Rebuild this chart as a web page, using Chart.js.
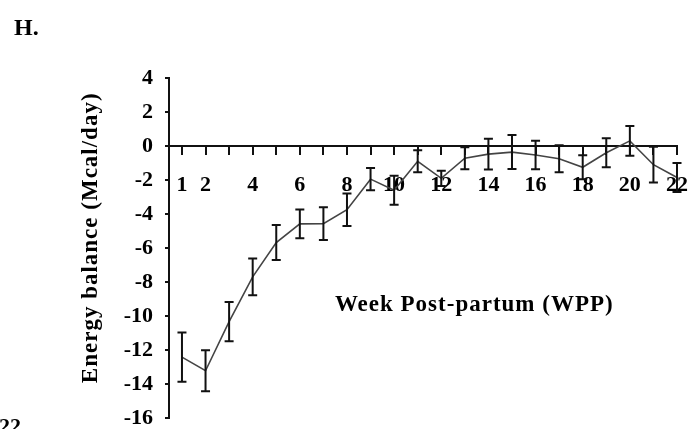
<!DOCTYPE html>
<html><head><meta charset="utf-8">
<script src="https://cdn.jsdelivr.net/npm/chart.js@4"></script>
<style>html,body{margin:0;padding:0;background:#fff;} canvas{display:block;}</style>
</head><body>
<canvas id="c" width="692" height="429"></canvas>
<script>
const weeks = [1,2,3,4,5,6,7,8,9,10,11,12,13,14,15,16,17,18,19,20,21,22];
const energyBalance = [-12.42,-13.22,-10.33,-7.7,-5.68,-4.58,-4.57,-3.75,-1.95,-2.6,-0.9,-1.9,-0.72,-0.48,-0.36,-0.53,-0.75,-1.25,-0.4,0.3,-1.1,-1.85];
const errorSEM = [1.45,1.2,1.15,1.08,1.03,0.85,0.96,0.95,0.65,0.85,0.65,0.45,0.65,0.9,1.0,0.84,0.8,0.7,0.85,0.88,1.05,0.85];
const xTickLabels = [1,2,4,6,8,10,12,14,16,18,20,22];
const yTickStep = 2;
const yMin = -16, yMax = 4;
const yAxisTitle = 'Energy balance (Mcal/day)';
const xAxisTitle = 'Week Post-partum (WPP)';
const panelLabel = 'H.';
const neighbourLabel = '22';
const FONT = "'Liberation Serif', 'Times New Roman', serif";

const errorBarPlugin = {
  id: 'errorBars',
  afterDatasetsDraw(chart) {
    const {ctx, scales: {x, y}} = chart;
    ctx.save();
    ctx.strokeStyle = '#111';
    ctx.lineWidth = 2;
    weeks.forEach((w, i) => {
      const px = x.getPixelForValue(w);
      const top = y.getPixelForValue(energyBalance[i] + errorSEM[i]);
      const bot = y.getPixelForValue(energyBalance[i] - errorSEM[i]);
      ctx.beginPath();
      ctx.moveTo(px, top); ctx.lineTo(px, bot);
      ctx.moveTo(px - 4.5, top); ctx.lineTo(px + 4.5, top);
      ctx.moveTo(px - 4.5, bot); ctx.lineTo(px + 4.5, bot);
      ctx.stroke();
    });
    ctx.restore();
  }
};

const textPlugin = {
  id: 'texts',
  afterDraw(chart) {
    const {ctx, scales: {x, y}} = chart;
    ctx.save();
    ctx.fillStyle = '#000';
    ctx.font = `bold 23px ${FONT}`;
    try { ctx.letterSpacing = '1px'; } catch (e) {}
    ctx.textAlign = 'center';
    ctx.textBaseline = 'alphabetic';
    ctx.fillText(xAxisTitle, x.getPixelForValue(13.4), 311);
    ctx.save();
    ctx.translate(97, y.getPixelForValue(-5.4));
    ctx.rotate(-Math.PI / 2);
    ctx.fillText(yAxisTitle, 0, 0);
    ctx.restore();
    try { ctx.letterSpacing = '0px'; } catch (e) {}
    ctx.textAlign = 'left';
    ctx.font = `bold 24px ${FONT}`;
    ctx.fillText(panelLabel, 14, 35);
    ctx.font = `bold 22px ${FONT}`;
    ctx.fillText(neighbourLabel, -1, 433);
    ctx.restore();
  }
};

new Chart(document.getElementById('c'), {
  type: 'line',
  data: {
    datasets: [{
      data: weeks.map((w, i) => ({x: w, y: energyBalance[i]})),
      borderColor: '#444',
      borderWidth: 1.6,
      pointRadius: 0,
      tension: 0,
      fill: false
    }]
  },
  options: {
    responsive: false,
    animation: false,
    devicePixelRatio: 1,
    layout: {padding: {top: 78, right: 15, bottom: 11, left: 0}},
    plugins: {legend: {display: false}, tooltip: {enabled: false}},
    scales: {
      x: {
        type: 'linear',
        position: {y: 0},
        min: 0.45,
        max: 22,
        afterBuildTicks: s => { s.ticks = weeks.map(v => ({value: v})); },
        afterFit: s => { s.height = 0; s.paddingLeft = 0; s.paddingRight = 0; s.paddingTop = 0; s.paddingBottom = 0; },
        ticks: {
          autoSkip: false,
          maxRotation: 0,
          padding: 18,
          color: '#000',
          font: {family: FONT, size: 22, weight: 'bold'},
          callback: v => xTickLabels.includes(v) ? String(v) : ''
        },
        grid: {drawOnChartArea: false, drawTicks: true, tickLength: 8, color: '#111', lineWidth: 2},
        border: {color: '#111', width: 2}
      },
      y: {
        type: 'linear',
        position: 'left',
        min: yMin,
        max: yMax,
        afterFit: s => { s.width = 169; s.paddingTop = 0; s.paddingBottom = 0; s.paddingLeft = 0; s.paddingRight = 0; },
        ticks: {
          stepSize: yTickStep,
          padding: 12,
          color: '#000',
          font: {family: FONT, size: 22, weight: 'bold'}
        },
        grid: {drawOnChartArea: false, drawTicks: true, tickLength: 4, color: '#111', lineWidth: 2},
        border: {color: '#111', width: 2}
      }
    }
  },
  plugins: [errorBarPlugin, textPlugin]
});
</script>
</body></html>
